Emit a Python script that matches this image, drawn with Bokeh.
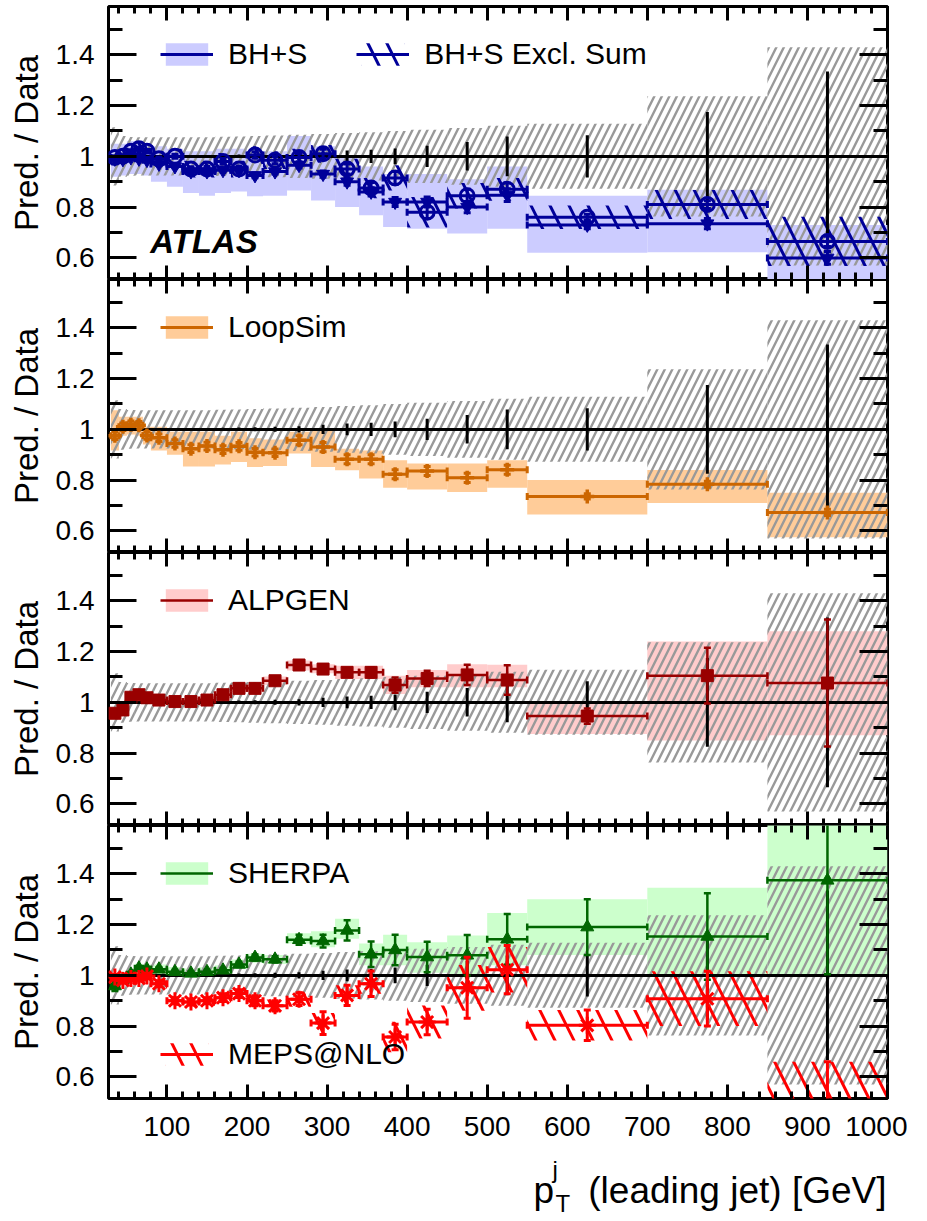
import numpy as np
from bokeh.plotting import figure
from bokeh.models import (Range1d, FixedTicker, LinearAxis, PrintfTickFormatter,
                          Legend, LegendItem, Label, CustomLabelingPolicy)
from bokeh.layouts import column
from bokeh.embed import file_html
from bokeh.resources import INLINE

FONT = "Liberation Sans"

# ---------------- data ----------------
bin_edges = [30, 40, 50, 60, 70, 80, 100, 120, 140, 160, 180, 200, 220, 250, 280,
             310, 340, 370, 400, 450, 500, 550, 700, 850, 1000]

data_syst = [0.115, 0.080, 0.076, 0.075, 0.075, 0.075, 0.075, 0.075, 0.075, 0.077, 0.078, 0.080,
             0.082, 0.085, 0.088, 0.092, 0.095, 0.100, 0.105, 0.112, 0.120, 0.128, 0.237, 0.430]
data_stat = [0.004, 0.004, 0.004, 0.004, 0.004, 0.004, 0.004, 0.005, 0.005, 0.006, 0.007, 0.008,
             0.010, 0.012, 0.018, 0.023, 0.026, 0.031, 0.042, 0.056, 0.078, 0.083, 0.175, 0.334]

bhs_val = [0.990, 0.988, 0.995, 0.990, 0.985, 0.970, 0.960, 0.940, 0.940, 0.945, 0.945, 0.925,
           0.940, 0.965, 0.930, 0.900, 0.860, 0.820, 0.820, 0.800, 0.847, 0.730, 0.735, 0.600]
bhs_lo = [0.920, 0.925, 0.930, 0.930, 0.925, 0.900, 0.880, 0.856, 0.845, 0.856, 0.862, 0.843,
          0.845, 0.865, 0.826, 0.800, 0.768, 0.722, 0.715, 0.696, 0.715, 0.620, 0.622, 0.450]
bhs_hi = [1.050, 1.050, 1.060, 1.060, 1.050, 1.040, 1.030, 1.020, 1.020, 1.030, 1.030, 1.010,
          1.020, 1.080, 1.040, 1.000, 0.960, 0.930, 0.930, 0.910, 0.960, 0.845, 0.868, 0.730]
bhs_err = [0.004, 0.004, 0.004, 0.004, 0.005, 0.005, 0.005, 0.006, 0.006, 0.007, 0.008, 0.009,
           0.010, 0.011, 0.012, 0.014, 0.016, 0.018, 0.020, 0.022, 0.025, 0.015, 0.020, 0.025]

exs_val = [0.995, 1.000, 1.020, 1.030, 1.020, 0.990, 1.000, 0.950, 0.950, 0.980, 0.950, 1.005,
           0.985, 0.995, 1.010, 0.950, 0.875, 0.915, 0.780, 0.845, 0.870, 0.760, 0.810, 0.665]
exs_hw = [0.030, 0.030, 0.030, 0.030, 0.030, 0.030, 0.030, 0.033, 0.033, 0.033, 0.033, 0.035,
          0.035, 0.035, 0.035, 0.040, 0.040, 0.050, 0.060, 0.050, 0.045, 0.046, 0.057, 0.097]
exs_err = [0.006, 0.006, 0.006, 0.006, 0.007, 0.007, 0.008, 0.009, 0.010, 0.011, 0.012, 0.013,
           0.014, 0.016, 0.018, 0.020, 0.022, 0.025, 0.025, 0.025, 0.025, 0.012, 0.015, 0.020]

loop_val = [0.975, 1.010, 1.018, 1.016, 0.976, 0.967, 0.944, 0.924, 0.934, 0.920, 0.933, 0.910,
            0.908, 0.957, 0.930, 0.882, 0.882, 0.823, 0.836, 0.809, 0.841, 0.736, 0.784, 0.673]
loop_lo = [0.917, 0.975, 0.980, 0.975, 0.940, 0.917, 0.900, 0.854, 0.854, 0.862, 0.871, 0.852,
           0.856, 0.905, 0.852, 0.839, 0.806, 0.770, 0.763, 0.753, 0.770, 0.665, 0.710, 0.575]
loop_hi = [1.075, 1.050, 1.050, 1.050, 1.010, 1.010, 0.990, 0.990, 0.990, 0.975, 0.990, 0.965,
           0.960, 0.990, 1.000, 0.924, 0.917, 0.878, 0.865, 0.865, 0.878, 0.800, 0.840, 0.750]
loop_err = [0.015, 0.015, 0.015, 0.015, 0.015, 0.015, 0.015, 0.015, 0.015, 0.015, 0.015, 0.015,
            0.015, 0.018, 0.018, 0.018, 0.018, 0.018, 0.018, 0.018, 0.018, 0.010, 0.012, 0.012]

alp_val = [0.957, 0.970, 1.020, 1.030, 1.018, 1.009, 1.003, 1.003, 1.009, 1.030, 1.055, 1.055,
           1.085, 1.147, 1.131, 1.118, 1.118, 1.068, 1.094, 1.108, 1.088, 0.946, 1.105, 1.076]
alp_lo = [0.940, 0.955, 1.005, 1.015, 1.003, 0.995, 0.990, 0.990, 0.995, 1.015, 1.040, 1.040,
          1.068, 1.125, 1.115, 1.092, 1.092, 1.033, 1.059, 1.059, 1.059, 0.875, 0.850, 0.870]
alp_hi = [0.975, 0.985, 1.035, 1.045, 1.033, 1.023, 1.016, 1.016, 1.023, 1.045, 1.070, 1.070,
          1.102, 1.165, 1.150, 1.144, 1.144, 1.105, 1.127, 1.150, 1.148, 0.995, 1.240, 1.280]
alp_err = [0.008, 0.008, 0.008, 0.008, 0.008, 0.008, 0.008, 0.008, 0.008, 0.009, 0.010, 0.010,
           0.012, 0.012, 0.012, 0.015, 0.020, 0.030, 0.030, 0.040, 0.058, 0.030, 0.110, 0.250]

sh_val = [0.958, 0.984, 1.004, 1.028, 1.024, 1.024, 1.014, 1.008, 1.014, 1.020, 1.043, 1.070,
          1.063, 1.140, 1.135, 1.177, 1.083, 1.100, 1.072, 1.079, 1.142, 1.190, 1.153, 1.374]
sh_lo = [0.940, 0.965, 0.985, 1.010, 1.005, 1.005, 0.995, 0.990, 0.995, 1.000, 1.025, 1.050,
         1.045, 1.125, 1.111, 1.144, 1.040, 1.040, 1.010, 1.000, 1.040, 1.080, 1.000, 1.000]
sh_hi = [0.975, 1.003, 1.023, 1.046, 1.043, 1.043, 1.033, 1.027, 1.033, 1.040, 1.062, 1.085,
         1.080, 1.166, 1.174, 1.223, 1.125, 1.160, 1.130, 1.157, 1.245, 1.300, 1.345, 1.750]
sh_err = [0.020, 0.008, 0.008, 0.008, 0.008, 0.008, 0.008, 0.008, 0.008, 0.009, 0.010, 0.012,
          0.012, 0.020, 0.025, 0.040, 0.050, 0.060, 0.060, 0.080, 0.100, 0.110, 0.170, 0.370]

meps_val = [0.993, 0.980, 0.988, 0.988, 0.997, 0.967, 0.900, 0.895, 0.900, 0.912, 0.928, 0.900,
            0.880, 0.906, 0.812, 0.921, 0.967, 0.757, 0.816, 0.951, 1.022, 0.803, 0.908, 0.470]
meps_hw = [0.020, 0.020, 0.020, 0.020, 0.020, 0.020, 0.020, 0.020, 0.020, 0.020, 0.020, 0.025,
           0.025, 0.030, 0.040, 0.040, 0.040, 0.060, 0.065, 0.090, 0.090, 0.060, 0.108, 0.190]
meps_err = [0.010, 0.010, 0.010, 0.010, 0.010, 0.012, 0.012, 0.012, 0.012, 0.015, 0.015, 0.020,
            0.020, 0.025, 0.045, 0.040, 0.050, 0.050, 0.050, 0.120, 0.095, 0.060, 0.108, 0.190]

x_major = [100, 200, 300, 400, 500, 600, 700, 800, 900, 1000]
x_minor = list(range(40, 1001, 20))
y_major = [0.6, 0.8, 1.0, 1.2, 1.4]
y_minor = [0.5, 0.6, 0.7, 0.8, 0.9, 1.0, 1.1, 1.2, 1.3, 1.4, 1.5]

# ---------------- helpers ----------------
E = np.array(bin_edges, dtype=float)
L, R = E[:-1], E[1:]
C = 0.5 * (L + R)
XR = Range1d(27, 1000)

FW, FH = 779, 273
LEFT_BORDER = 108
NO_LABELS = "for (const i of indices) { indices.unset(i) }\nreturn indices"


def make_panel(top=0, bottom=0, show_x_labels=False):
    p = figure(frame_width=FW, frame_height=FH, x_range=XR, y_range=Range1d(0.515, 1.59),
               output_backend="svg", toolbar_location=None,
               min_border_left=LEFT_BORDER, min_border_right=20, min_border_top=top,
               min_border_bottom=bottom)
    p.grid.visible = False
    p.outline_line_color = "black"
    p.outline_line_width = 3
    p.background_fill_color = "white"
    p.border_fill_color = "white"

    yt = FixedTicker(ticks=y_major, minor_ticks=y_minor)
    xt = FixedTicker(ticks=x_major, minor_ticks=x_minor)

    def style(ax, ticker, major, minor, labels, standoff=10):
        ax.ticker = ticker
        ax.axis_line_color = None
        ax.major_tick_in = major
        ax.major_tick_out = 0
        ax.minor_tick_in = minor
        ax.minor_tick_out = 0
        ax.major_tick_line_width = 3
        ax.minor_tick_line_width = 3
        ax.major_tick_line_color = "black"
        ax.minor_tick_line_color = "black"
        if labels:
            ax.major_label_text_font = FONT
            ax.major_label_text_font_size = "28px"
            ax.major_label_text_color = "black"
            ax.major_label_standoff = standoff
        else:
            ax.major_label_text_font_size = "0px"
            ax.major_label_standoff = 0
            ax.major_label_policy = CustomLabelingPolicy(code=NO_LABELS)

    ly = p.yaxis[0]
    style(ly, yt, 28, 14, True, standoff=14)
    ly.formatter = PrintfTickFormatter(format="%g")
    ly.axis_label = "Pred. / Data"
    ly.axis_label_text_font = FONT
    ly.axis_label_text_font_size = "33px"
    ly.axis_label_text_font_style = "normal"
    ly.axis_label_text_color = "black"
    ly.axis_label_standoff = 8

    ry = LinearAxis()
    style(ry, yt, 28, 14, False)
    p.add_layout(ry, "right")

    bx = p.xaxis[0]
    style(bx, xt, 14, 7, show_x_labels, standoff=18)

    tx = LinearAxis()
    style(tx, xt, 14, 7, False)
    p.add_layout(tx, "above")
    return p


def data_band(p):
    p.quad(left=L, right=R, bottom=1 - np.array(data_syst), top=1 + np.array(data_syst),
           fill_color=None, line_color=None, hatch_pattern="/", hatch_color="#999999",
           hatch_weight=2.4, hatch_scale=15)


def data_points(p):
    p.hspan(y=[1.0], line_color="black", line_width=3)
    s = np.array(data_stat)
    p.segment(x0=C, x1=C, y0=1 - s, y1=1 + s, line_color="black", line_width=3)


def fill_band(p, lo, hi, color):
    return p.quad(left=L, right=R, bottom=lo, top=hi, fill_color=color, line_color=None)


def hatch_band(p, val, hw, color):
    v = np.array(val)
    h = np.array(hw)
    return p.quad(left=L, right=R, bottom=v - h, top=v + h, fill_color=None, line_color=None,
                  hatch_pattern="\\", hatch_color=color, hatch_weight=3, hatch_scale=38)


def points(p, val, err, color, marker, size, lw=3, style="filled", mlw=1):
    v = np.array(val)
    e = np.array(err)
    hb = p.segment(x0=L, x1=R, y0=v, y1=v, line_color=color, line_width=lw)
    p.segment(x0=C, x1=C, y0=v - e, y1=v + e, line_color=color, line_width=lw)
    p.scatter(x=np.concatenate([L, R]), y=np.concatenate([v, v]), marker="dash",
              angle=np.pi / 2, size=7, line_color=color, line_width=lw)
    p.scatter(x=np.concatenate([C, C]), y=np.concatenate([v - e, v + e]), marker="dash",
              size=7, line_color=color, line_width=lw)
    if style == "filled":
        p.scatter(x=C, y=v, marker=marker, size=size, fill_color=color, line_color=color,
                  line_width=mlw)
    else:
        p.scatter(x=C, y=v, marker=marker, size=size, fill_color=None, line_color=color,
                  line_width=mlw)
    return hb


def legend(p, items, loc, orientation="vertical"):
    lg = Legend(items=items, location=loc, orientation=orientation,
                background_fill_alpha=0, border_line_color=None, padding=0, margin=0,
                spacing=49, label_text_font=FONT, label_text_font_size="30px",
                label_text_color="black", glyph_width=53, glyph_height=28,
                label_height=28, label_standoff=15)
    p.add_layout(lg)


TOP_LEG = (52, FH - 37 - 28)

# ---------------- panel 1 : BH+S ----------------
BLUE = "#000099"
p1 = make_panel(top=6)
r_bhs_band = fill_band(p1, bhs_lo, bhs_hi, "#ccccff")
data_band(p1)
r_exs_band = hatch_band(p1, exs_val, exs_hw, BLUE)
data_points(p1)
r_bhs_line = points(p1, bhs_val, bhs_err, BLUE, "inverted_triangle", 13)
r_exs_line = points(p1, exs_val, exs_err, BLUE, "circle", 14, style="open", mlw=3)
legend(p1, [LegendItem(label="BH+S", renderers=[r_bhs_band, r_bhs_line]),
            LegendItem(label="BH+S Excl. Sum", renderers=[r_exs_band, r_exs_line])],
       TOP_LEG, orientation="horizontal")
p1.add_layout(Label(x=79, y=0.663, text="ATLAS", text_font=FONT, text_font_size="33px",
                    text_font_style="bold italic", text_color="black",
                    text_baseline="alphabetic"))

# ---------------- panel 2 : LoopSim ----------------
ORANGE = "#cc6600"
p2 = make_panel()
r_loop_band = fill_band(p2, loop_lo, loop_hi, "#ffcc99")
data_band(p2)
data_points(p2)
r_loop_line = points(p2, loop_val, loop_err, ORANGE, "cross", 14, style="open", mlw=3.5)
legend(p2, [LegendItem(label="LoopSim", renderers=[r_loop_band, r_loop_line])], TOP_LEG)

# ---------------- panel 3 : ALPGEN ----------------
DRED = "#990000"
p3 = make_panel()
r_alp_band = fill_band(p3, alp_lo, alp_hi, "#ffcccc")
data_band(p3)
data_points(p3)
r_alp_line = points(p3, alp_val, alp_err, DRED, "square", 12, lw=2.5)
legend(p3, [LegendItem(label="ALPGEN", renderers=[r_alp_band, r_alp_line])], TOP_LEG)

# ---------------- panel 4 : SHERPA / MEPS@NLO ----------------
GREEN = "#006600"
RED = "#ff0000"
p4 = make_panel(bottom=52, show_x_labels=True)
r_sh_band = fill_band(p4, sh_lo, sh_hi, "#ccffcc")
data_band(p4)
r_meps_band = hatch_band(p4, meps_val, meps_hw, RED)
data_points(p4)
r_sh_line = points(p4, sh_val, sh_err, GREEN, "triangle", 13, lw=2.5)
r_meps_line = points(p4, meps_val, meps_err, RED, "asterisk", 17, style="open", mlw=3)
legend(p4, [LegendItem(label="SHERPA", renderers=[r_sh_band, r_sh_line])], TOP_LEG)
legend(p4, [LegendItem(label="MEPS@NLO", renderers=[r_meps_band, r_meps_line])], (52, 27))

# ---------------- x-axis title strip ----------------
TH = 68
p5 = figure(frame_width=FW, frame_height=TH, x_range=Range1d(0, FW), y_range=Range1d(0, TH),
            output_backend="svg", toolbar_location=None, x_axis_location=None,
            y_axis_location=None, min_border_left=LEFT_BORDER, min_border_right=20,
            min_border_top=0, min_border_bottom=0)
p5.grid.visible = False
p5.outline_line_color = None
p5.add_layout(Label(x=778, y=28, text="(leading jet) [GeV]", text_align="right",
                    text_baseline="alphabetic", text_font=FONT, text_font_size="37px",
                    text_color="black"))
p5.add_layout(Label(x=425, y=28, text="p", text_align="left", text_baseline="alphabetic",
                    text_font=FONT, text_font_size="37px", text_color="black"))
p5.add_layout(Label(x=447, y=15, text="T", text_align="left", text_baseline="alphabetic",
                    text_font=FONT, text_font_size="24px", text_color="black"))
p5.add_layout(Label(x=444, y=49, text="j", text_align="left", text_baseline="alphabetic",
                    text_font=FONT, text_font_size="24px", text_color="black"))

layout = column(p1, p2, p3, p4, p5, spacing=0)
open("out.html", "w").write(file_html(layout, INLINE))
